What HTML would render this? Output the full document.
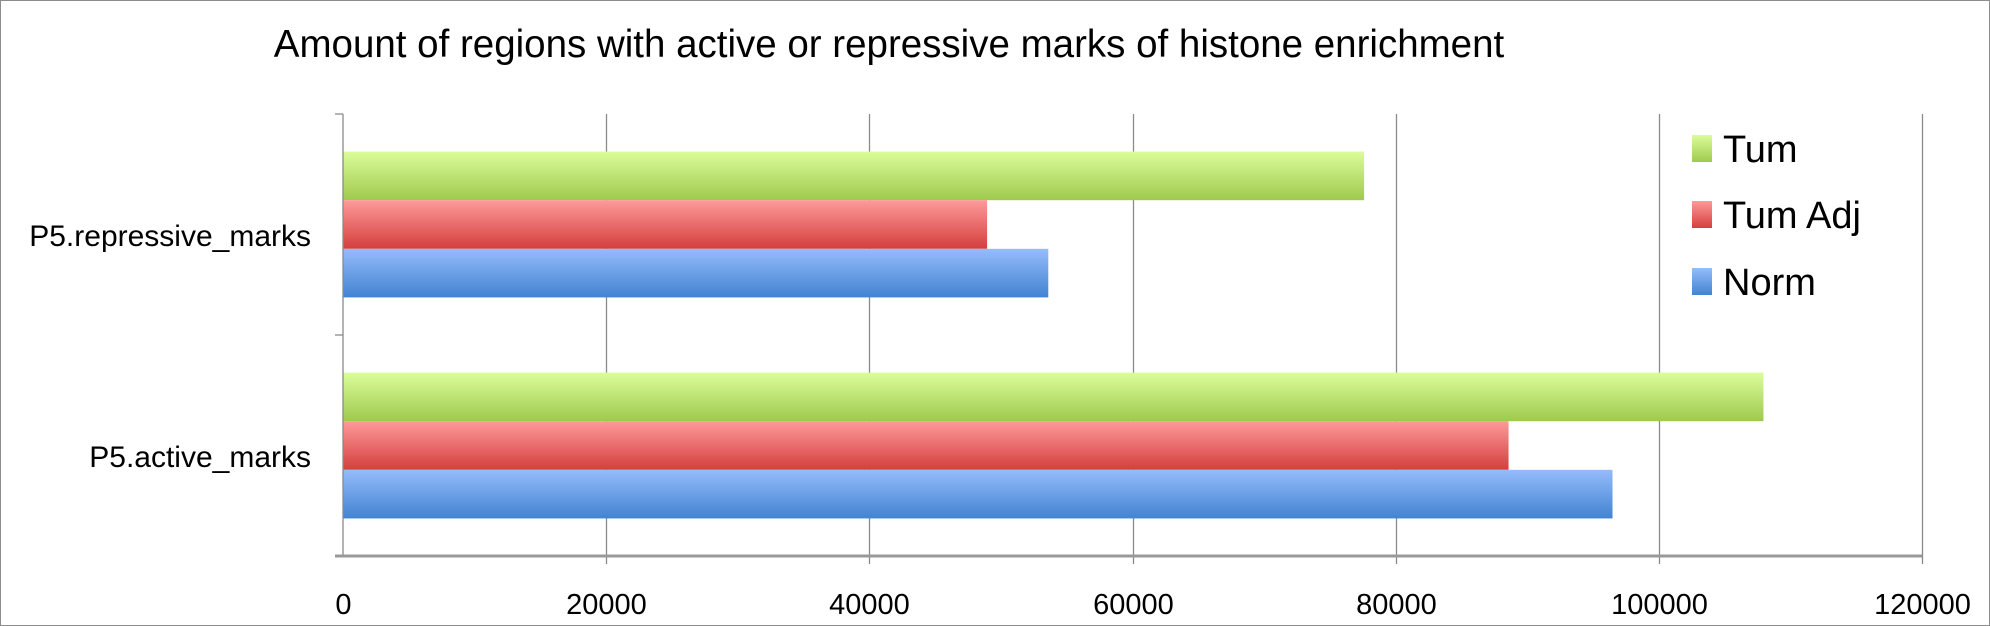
<!DOCTYPE html>
<html><head><meta charset="utf-8"><style>
html,body{margin:0;padding:0;background:#fff}
svg{display:block;font-family:"Liberation Sans",sans-serif}
</style></head><body>
<svg id="c" width="1990" height="626" viewBox="0 0 1990 626">
<defs>
<linearGradient id="gT" x1="0" y1="0" x2="0" y2="1"><stop offset="0" stop-color="#dbfd9a"/><stop offset="1" stop-color="#9fc94e"/></linearGradient>
<linearGradient id="gA" x1="0" y1="0" x2="0" y2="1"><stop offset="0" stop-color="#fd9a9a"/><stop offset="1" stop-color="#d43f3d"/></linearGradient>
<linearGradient id="gN" x1="0" y1="0" x2="0" y2="1"><stop offset="0" stop-color="#95bcfb"/><stop offset="1" stop-color="#4283d1"/></linearGradient>
</defs>
<rect x="0.5" y="0.5" width="1989" height="625" fill="#fff" stroke="#8c8c8c"/>
<text x="889" y="57" font-size="38.5" text-anchor="middle" fill="#000">Amount of regions with active or repressive marks of histone enrichment</text>
<g id="grid"></g><g id="bars"></g><g id="axes"></g><g id="legend"></g>
</svg>
<script>
const categories=["P5.repressive_marks","P5.active_marks"];
const seriesNames=["Tum","Tum Adj","Norm"];
const tumValues=[77600,107950];
const tumAdjValues=[48950,88580];
const normValues=[53600,96480];
const tickValues=[0,20000,40000,60000,80000,100000,120000];
const NS="http://www.w3.org/2000/svg";
const X0=343,X1=1922,Y0=114,Y1=556,XMAX=120000;
const fills=["url(#gT)","url(#gA)","url(#gN)"];
function xs(v){return X0+(v/XMAX)*(X1-X0);}
const bandH=(Y1-Y0)/categories.length;
function mk(t,a,p){const e=document.createElementNS(NS,t);for(const k in a)e.setAttribute(k,a[k]);p.appendChild(e);return e;}
const grid=document.getElementById('grid'),bars=document.getElementById('bars'),axes=document.getElementById('axes'),leg=document.getElementById('legend');
tickValues.forEach((v,i)=>{
 const x=Math.round(xs(v))+0.5;
 if(i>0){const l=mk('line',{x1:x,y1:Y0,x2:x,y2:Y1+8,stroke:'#8a8a8a','stroke-width':1.3},grid);
 
 }
 const t=mk('text',{x:x,y:614,'font-size':29,'text-anchor':'middle',fill:'#000'},axes);
 t.textContent=String(v);
 
 
});
const all=[tumValues,tumAdjValues,normValues];
categories.forEach((c,ci)=>{
 const top=Y0+ci*bandH;
 const gStart=top+bandH*0.17;
 all.forEach((vals,si)=>{
  const y=gStart+si*(bandH*0.22);
  const h=bandH*0.22;
  const r=mk('rect',{x:X0,y:y,width:xs(vals[ci])-X0,height:h,fill:fills[si]},bars);
  
  
 });
 const t=mk('text',{x:311,y:top+bandH*0.53+15,'font-size':30,'text-anchor':'end',fill:'#000'},axes);
 t.textContent=c;
 
 
});
const ax=mk('line',{x1:X0,y1:Y0,x2:X0,y2:Y1,stroke:'#8a8a8a','stroke-width':1.3},axes);


for(let i=0;i<=categories.length;i++){const y=Y0+i*bandH;const tk=mk('line',{x1:X0-8,y1:y,x2:X0,y2:y,stroke:'#8a8a8a','stroke-width':1.3},axes);

}
const xa=mk('line',{x1:X0-8,y1:Y1,x2:X1,y2:Y1,stroke:'#999','stroke-width':3},axes);


const ly=[148,214,281];
seriesNames.forEach((n,i)=>{
 const g=mk('g',{},leg);
 
 
 mk('rect',{x:1692,y:ly[i]-13,width:20,height:27,fill:fills[i]},g);
 const t=mk('text',{x:1723,y:ly[i]+14,'font-size':38,fill:'#000'},g);
 t.textContent=n;
});
</script>
</body></html>
